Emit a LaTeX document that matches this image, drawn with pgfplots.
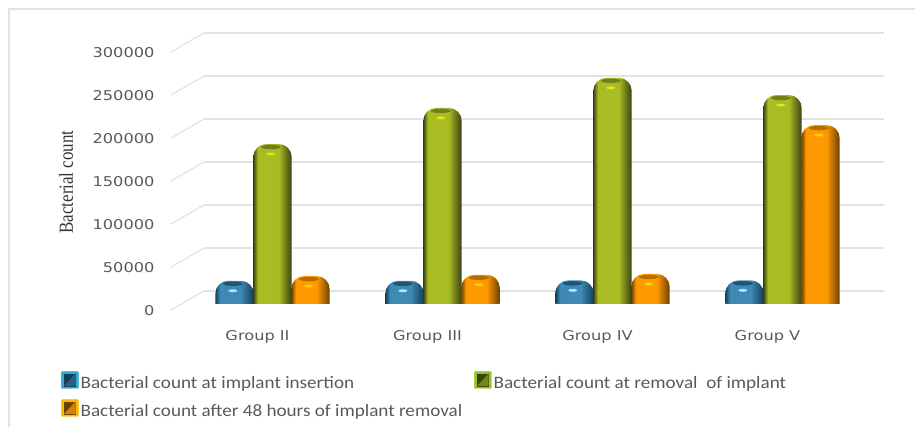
\documentclass[border=0pt]{standalone}
\usepackage{fontspec}
\usepackage{pgfplots}
\pgfplotsset{compat=1.18}
\setmainfont{Liberation Sans}
\newfontfamily\tickfont[FakeStretch=1.2]{DejaVu Sans}
\newfontfamily\legfont[FakeStretch=1.1]{Carlito}
\newfontfamily\ylabfont[FakeStretch=0.85]{Liberation Serif}

\definecolor{txt}{HTML}{595959}
\definecolor{gridc}{HTML}{E2E2E2}
\definecolor{blueM}{HTML}{3E8AB5}
\definecolor{blueD}{HTML}{123F58}
\definecolor{greenM}{HTML}{A9BC24}
\definecolor{greenD}{HTML}{3A420F}
\definecolor{orangeM}{HTML}{FF9900}
\definecolor{orangeD}{HTML}{6B4000}

\pgfdeclarehorizontalshading{blueS}{100bp}{color(0bp)=(blueD); color(25bp)=(blueD); color(31bp)=(blueM); color(58bp)=(blueM); color(75bp)=(blueD); color(100bp)=(blueD)}
\pgfdeclarehorizontalshading{greenS}{100bp}{color(0bp)=(greenD); color(25bp)=(greenD); color(31bp)=(greenM); color(58bp)=(greenM); color(75bp)=(greenD); color(100bp)=(greenD)}
\pgfdeclarehorizontalshading{orangeS}{100bp}{color(0bp)=(orangeD); color(25bp)=(orangeD); color(31bp)=(orangeM); color(58bp)=(orangeM); color(75bp)=(orangeD); color(100bp)=(orangeD)}

% legend key: bevelled square
\newcommand{\legsq}[3]{%
  \fill[#1,rounded corners=1pt] (0,-5pt) rectangle (17pt,12pt);
  \fill[#2] (3pt,-2.5pt) rectangle (14pt,9.5pt);
  \fill[#3] (3pt,-2.5pt) -- (8.5pt,3.5pt) -- (14pt,9.5pt) -- (14pt,-2.5pt) -- cycle;
}
% one cylinder: shading, left x, right x, value
\newcommand{\cyl}[4]{%
  \addplot[draw=none,shading=#1,rounded corners=13pt,sharp plot,forget plot]
    coordinates {(#2,0) (#2,#4) (#3,#4) (#3,0)};
}

\begin{document}
\begin{tikzpicture}[x=1pt,y=1pt]
\path[use as bounding box] (0,0) rectangle (915,427);
\draw[gridc,line width=1.2pt] (9,0) -- (9,418) -- (915,418);

% back wall with gridlines and the value ticks
\begin{axis}[
  at={(204pt,136pt)},anchor=south west,
  scale only axis,width=680pt,height=258pt,
  xmin=204,xmax=884,ymin=0,ymax=300000,
  clip=false,
  axis line style={draw=none},
  xtick=\empty,
  ytick={0,50000,100000,150000,200000,250000,300000},
  ymajorgrids,
  grid style={gridc,line width=1.2pt},
  major tick style={draw=none},
  scaled y ticks=false,
  y tick label style={/pgf/number format/fixed,/pgf/number format/precision=0,
    /pgf/number format/1000 sep={},/pgf/number format/assume math mode=true,
    font=\tickfont\fontsize{13.5}{15}\selectfont,text=txt,anchor=east,xshift=-46pt,yshift=-20pt},
  ylabel={\ylabfont\fontsize{20}{22}\selectfont Bacterial count},
  ylabel style={at={(-0.203,0.4225)},anchor=center,text=txt!60!black},
]
\addplot[gridc,line width=1.2pt,forget plot] coordinates {(171,-22093) (204,0)};
\addplot[gridc,line width=1.2pt,forget plot] coordinates {(171,27907) (204,50000)};
\addplot[gridc,line width=1.2pt,forget plot] coordinates {(171,77907) (204,100000)};
\addplot[gridc,line width=1.2pt,forget plot] coordinates {(171,127907) (204,150000)};
\addplot[gridc,line width=1.2pt,forget plot] coordinates {(171,177907) (204,200000)};
\addplot[gridc,line width=1.2pt,forget plot] coordinates {(171,227907) (204,250000)};
\addplot[gridc,line width=1.2pt,forget plot] coordinates {(171,277907) (204,300000)};
\end{axis}

% bars, set forward of the wall
\begin{axis}[
  at={(187.5pt,123pt)},anchor=south west,
  scale only axis,width=680pt,height=258pt,
  xmin=0.5,xmax=4.5,ymin=0,ymax=300000,
  clip=false,
  axis line style={draw=none},
  ytick=\empty,
  xtick={1,2,3,4},
  xticklabels={Group II,Group III,Group IV,Group V},
  major tick style={draw=none},
  x tick label style={font=\tickfont\fontsize{13.5}{15}\selectfont,text=txt,xshift=-15pt,yshift=-23pt},
  legend columns=2,
  legend cell align=left,
  legend style={at={(-0.186,-0.26)},anchor=north west,draw=none,fill=none,
    font=\legfont\fontsize{17.4}{19}\selectfont,text=txt,
    inner sep=0pt,row sep=7pt,
    /tikz/every even column/.append style={column sep=10pt}},
]
% blue: insertion
\cyl{blueS}{0.6635}{0.8895}{27000}
\cyl{blueS}{1.6635}{1.8895}{27000}
\cyl{blueS}{2.6635}{2.8895}{27500}
\cyl{blueS}{3.6635}{3.8895}{27500}
% green: removal
\cyl{greenS}{0.887}{1.113}{186000}
\cyl{greenS}{1.887}{2.113}{228000}
\cyl{greenS}{2.887}{3.113}{263000}
\cyl{greenS}{3.887}{4.113}{243000}
% orange: 48 hours after
\cyl{orangeS}{1.1105}{1.3365}{32500}
\cyl{orangeS}{2.1105}{2.3365}{34000}
\cyl{orangeS}{3.1105}{3.3365}{35000}
\cyl{orangeS}{4.1105}{4.3365}{208000}
% dark caps
\addplot[only marks,mark=*,mark size=11pt,forget plot,color=blueD,
  mark options={fill opacity=.7,draw opacity=0,yshift=-3pt,xscale=.9,yscale=.2}]
  coordinates {(0.7665,27000) (1.7665,27000) (2.7665,27500) (3.7665,27500)};
\addplot[only marks,mark=*,mark size=11pt,forget plot,color=greenD!70!greenM,
  mark options={fill opacity=.7,draw opacity=0,yshift=-3pt,xscale=.9,yscale=.2}]
  coordinates {(0.99,186000) (1.99,228000) (2.99,263000) (3.99,243000)};
\addplot[only marks,mark=*,mark size=11pt,forget plot,color=orangeD!70!orangeM,
  mark options={fill opacity=.7,draw opacity=0,yshift=-3pt,xscale=.9,yscale=.2}]
  coordinates {(1.2135,32500) (2.2135,34000) (3.2135,35000) (4.2135,208000)};
% highlights
\addplot[only marks,mark=*,mark size=4.5pt,forget plot,color=cyan!30!white,
  mark options={draw opacity=0,yshift=-10pt,xscale=1,yscale=.33}]
  coordinates {(0.7665,27000) (1.7665,27000) (2.7665,27500) (3.7665,27500)};
\addplot[only marks,mark=*,mark size=4.5pt,forget plot,color=yellow!70!greenM,
  mark options={draw opacity=0,yshift=-10pt,xscale=1,yscale=.33}]
  coordinates {(0.99,186000) (1.99,228000) (2.99,263000) (3.99,243000)};
\addplot[only marks,mark=*,mark size=4.5pt,forget plot,color=yellow!70!orange,
  mark options={draw opacity=0,yshift=-10pt,xscale=1,yscale=.33}]
  coordinates {(1.2135,32500) (2.2135,34000) (3.2135,35000) (4.2135,208000)};

\addlegendimage{legend image code/.code={\legsq{blueM!70!cyan}{blueD}{blueM!70!black}}}
\addlegendentry{Bacterial count at implant insertion}
\addlegendimage{legend image code/.code={\legsq{greenM!85!green}{greenD}{greenM!70!black}}}
\addlegendentry{Bacterial count at removal\ \ of implant}
\addlegendimage{legend image code/.code={\legsq{orangeM!70!yellow}{orangeD}{orangeM!85!black}}}
\addlegendentry{Bacterial count after 48 hours of implant removal}
\end{axis}
\end{tikzpicture}
\end{document}
